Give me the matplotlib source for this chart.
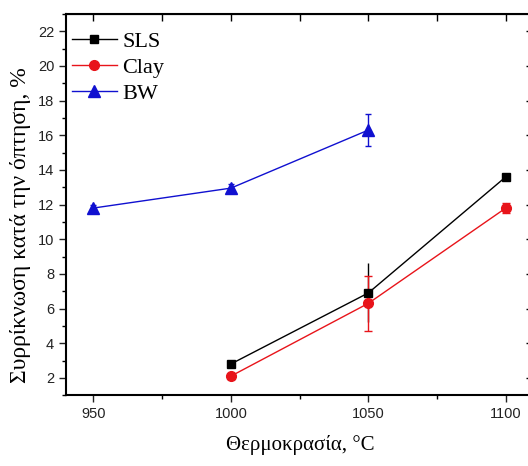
import matplotlib
matplotlib.use("Agg")
import matplotlib.pyplot as plt
from matplotlib.lines import Line2D
from matplotlib.ticker import MultipleLocator

# Data
temp_sls = [1000, 1050, 1100]
sls = [2.8, 6.9, 13.6]
sls_err = [0.15, 1.7, 0.1]

temp_clay = [1000, 1050, 1100]
clay = [2.1, 6.3, 11.8]
clay_err = [0.15, 1.6, 0.3]

temp_bw = [950, 1000, 1050]
bw = [11.8, 12.95, 16.3]
bw_err = [0.2, 0.25, 0.9]

c_sls, c_clay, c_bw = 'black', '#e8141a', '#1010d0'

fig = plt.figure(figsize=(5.28, 4.66), dpi=100)
ax = fig.add_axes([0.125, 0.152, 0.885, 0.818])

ax.errorbar(temp_sls, sls, yerr=sls_err, color=c_sls, marker='s', ms=6,
            lw=1, elinewidth=1, capsize=0)
ax.errorbar(temp_clay, clay, yerr=clay_err, color=c_clay, marker='o', ms=7,
            lw=1, elinewidth=1, capsize=3)
ax.errorbar(temp_bw, bw, yerr=bw_err, color=c_bw, marker='^', ms=8,
            lw=1, elinewidth=1, capsize=2)

ax.set_xlim(940, 1110)
ax.set_ylim(1, 23)
ax.set_xticks([950, 1000, 1050, 1100])
ax.xaxis.set_minor_locator(MultipleLocator(25))
ax.set_yticks(range(2, 23, 2))
ax.yaxis.set_minor_locator(MultipleLocator(1))

ax.tick_params(which='major', direction='out', length=5, width=1,
               labelsize=10.5, labelfontfamily='Liberation Sans', colors='#222222')
ax.tick_params(which='minor', direction='out', length=3, width=1)
for s in ax.spines.values():
    s.set_linewidth(1.5)

# mirrored ticks on top and right, pointing inwards
top = ax.secondary_xaxis('top')
top.set_xticks([950, 1000, 1050, 1100])
top.xaxis.set_minor_locator(MultipleLocator(25))
top.tick_params(which='both', direction='in', length=5, width=1, labeltop=False)
right = ax.secondary_yaxis('right')
right.set_yticks(range(2, 23, 2))
right.yaxis.set_minor_locator(MultipleLocator(1))
right.tick_params(which='major', direction='in', length=5, width=1, labelright=False)
right.tick_params(which='minor', direction='in', length=3, width=1)

ax.set_xlabel('Θερμοκρασία, °C', family='Liberation Serif', fontsize=15)
ax.xaxis.set_label_coords(0.502, -0.105)
ax.set_ylabel('Συρρίκνωση κατά την όπτηση, %', family='Liberation Serif',
              fontsize=17)
ax.yaxis.set_label_coords(-0.074, 0.446)

handles = [
    Line2D([], [], color=c_sls, marker='s', ms=6, lw=1, label='SLS'),
    Line2D([], [], color=c_clay, marker='o', ms=7, lw=1, label='Clay'),
    Line2D([], [], color=c_bw, marker='^', ms=8, lw=1, label='BW'),
]
ax.legend(handles=handles, loc='upper left', frameon=False, handlelength=2.0,
          handletextpad=0.25, labelspacing=0.25, borderaxespad=0,
          borderpad=0, bbox_to_anchor=(0.013, 0.955),
          prop={'family': 'Liberation Serif', 'size': 16})

fig.savefig('out.png', dpi=100)
